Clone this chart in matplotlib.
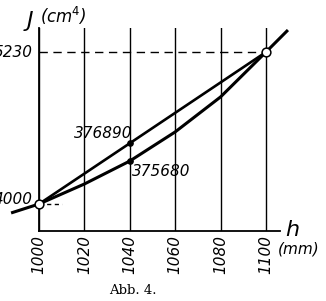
import matplotlib
matplotlib.use('Agg')
import matplotlib.pyplot as plt
from matplotlib.transforms import offset_copy, blended_transform_factory

# values
h_ticks = [1000, 1020, 1040, 1060, 1080, 1100]
h_tick_labels = ['1000', '1020', '1040', '1060', '1080', '1100']

J_ends = [372760, 383090]
J_end_labels = ['4000', '5230']

h_straight = [1000, 1040, 1100]
J_straight = [372760, 376890, 383090]

h_curve = [987.7, 1000, 1020, 1040, 1060, 1080, 1100, 1109.7]
J_curve = [372150, 372760, 374120, 375680, 377660, 380040, 383090, 384590]

h_marked = [1040, 1040]
J_marked = [376890, 375680]
J_marked_labels = ['376890', '375680']

plt.rcParams['font.family'] = 'DejaVu Sans'
plt.rcParams['mathtext.fontset'] = 'dejavusans'
plt.rcParams['mathtext.default'] = 'it'

W, H = 326, 301
fig = plt.figure(figsize=(W / 100, H / 100), dpi=100)
ax = fig.add_axes([39 / W, 1 - 231 / H, (280 - 39) / W, (231 - 28) / H])

ax.set_xlim(1000, 1106.2)
ax.set_ylim(370924, 384728)

for s in ['top', 'right']:
    ax.spines[s].set_visible(False)
for s in ['left', 'bottom']:
    ax.spines[s].set_linewidth(1.3)

ax.set_xticks(h_ticks)
ax.set_xticklabels(h_tick_labels, rotation=90, fontsize=11, style='oblique')
ax.tick_params(axis='x', length=0, pad=3)
ax.set_yticks([])
ax.xaxis.grid(True, color='black', linewidth=1.0)
ax.set_axisbelow(True)

# dashed guides
ax.plot([1000, 1100], [J_ends[1], J_ends[1]], color='black', lw=1.0,
        dashes=(6, 4), zorder=2)
ax.plot([1000, 1010], [J_ends[0], J_ends[0]], color='black', lw=1.0,
        dashes=(3, 2.5), zorder=2)

# the two curves
ax.plot(h_straight, J_straight, color='black', lw=1.9, zorder=3,
        solid_capstyle='butt')
ax.plot(h_curve, J_curve, color='black', lw=2.2, zorder=3, clip_on=False,
        solid_capstyle='butt', solid_joinstyle='round')

ax.plot(h_marked, J_marked, 'o', color='black', ms=3.8, zorder=4)
ax.plot([h_straight[0], h_straight[-1]], J_ends, 'o', mfc='white', mec='black',
        mew=1.1, ms=6.3, zorder=5, clip_on=False)

# value labels at h=1040
ax.annotate(J_marked_labels[0], (h_marked[0], J_marked[0]), xytext=(2, 3.5),
            textcoords='offset points', ha='right', va='baseline',
            fontsize=11, style='oblique')
ax.annotate(J_marked_labels[1], (h_marked[1], J_marked[1]), xytext=(1.5, -11),
            textcoords='offset points', ha='left', va='baseline',
            fontsize=11, style='oblique')

# y end labels
tr = blended_transform_factory(ax.transAxes, ax.transData)
ax.text(0, J_ends[1], J_end_labels[1], transform=offset_copy(tr, fig, x=-4.5, y=0, units='points'),
        ha='right', va='center', fontsize=11, style='oblique')
ax.text(0, J_ends[0], J_end_labels[0], transform=offset_copy(tr, fig, x=-4.5, y=3.5, units='points'),
        ha='right', va='center', fontsize=11, style='oblique')

# axis titles
fig.text(27 / W, 1 - 27 / H, 'J', fontsize=16, style='oblique', ha='left', va='baseline')
fig.text(40 / W, 1 - 23 / H, '(cm$^{4}$)', fontsize=12, style='oblique', ha='left', va='baseline')
fig.text(285 / W, 1 - 236 / H, 'h', fontsize=16, style='oblique', ha='left', va='baseline')
fig.text(278 / W, 1 - 254 / H, '(mm)', fontsize=11, style='oblique', ha='left', va='baseline')

fig.text(133 / W, 1 - 290 / H, 'Abb. 4.', fontsize=9.5, family='DejaVu Serif',
         ha='center', va='center')

fig.savefig('out.png', dpi=100)
